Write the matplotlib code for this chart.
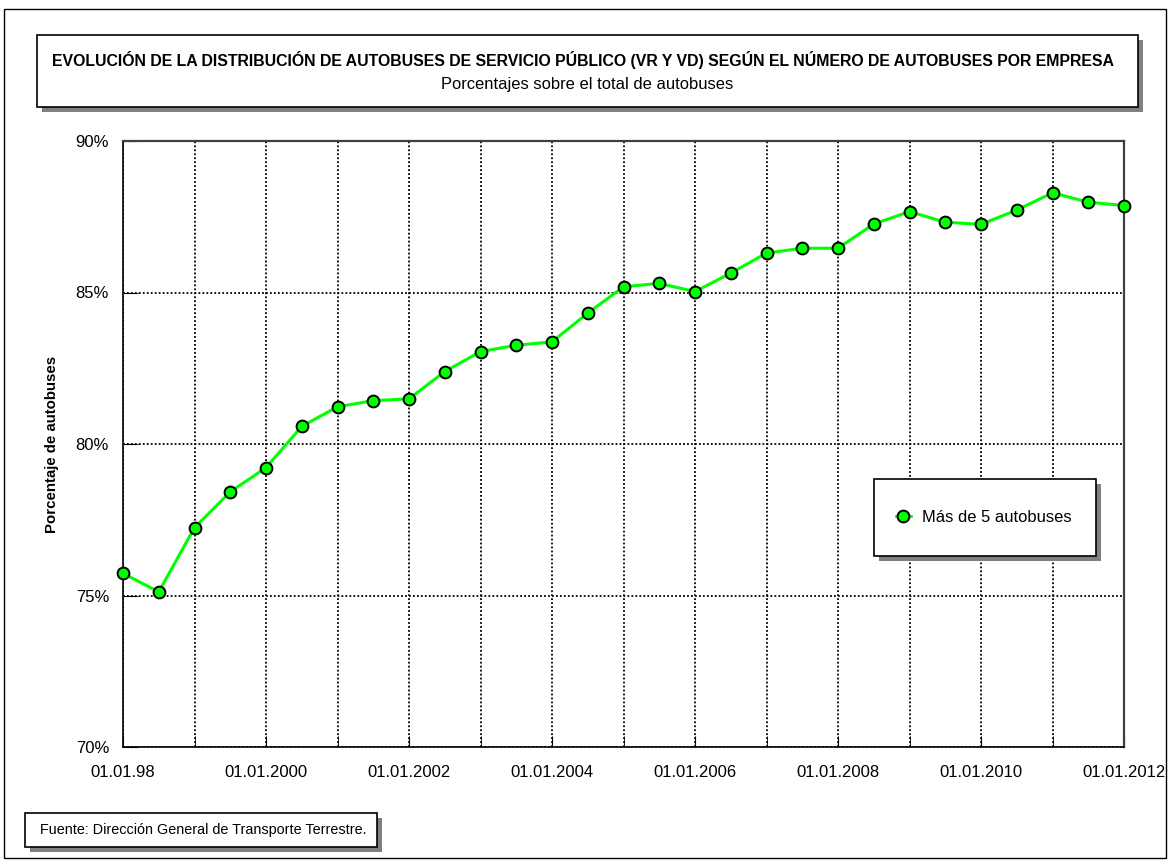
import matplotlib
matplotlib.use("Agg")
import matplotlib.pyplot as plt
import matplotlib.patches as patches
from matplotlib.lines import Line2D
from matplotlib.ticker import FuncFormatter

plt.rcParams['font.family'] = ['Liberation Sans', 'DejaVu Sans']

# half-yearly observations, 01.01.1998 .. 01.01.2012
years = [1998 + 0.5 * i for i in range(29)]
mas_de_5 = [75.73, 75.12, 77.24, 78.42, 79.22, 80.58, 81.23, 81.43, 81.49, 82.39,
            83.05, 83.26, 83.37, 84.32, 85.19, 85.30, 85.03, 85.64, 86.30, 86.46,
            86.46, 87.26, 87.67, 87.32, 87.25, 87.72, 88.29, 87.98, 87.87]

label_years = [1998, 2000, 2002, 2004, 2006, 2008, 2010, 2012]
label_text = ['01.01.98', '01.01.2000', '01.01.2002', '01.01.2004',
              '01.01.2006', '01.01.2008', '01.01.2010', '01.01.2012']
y_ticks = [70, 75, 80, 85, 90]

W, H = 1170, 861
fig = plt.figure(figsize=(W / 100, H / 100), dpi=100)


def fbox(x0, y0, x1, y1, shadow=5):
    # box in pixel coords (top-left origin) with grey drop shadow
    fx0, fx1 = x0 / W, x1 / W
    fy0, fy1 = 1 - y1 / H, 1 - y0 / H
    sh = patches.Rectangle((fx0 + shadow / W, fy0 - shadow / H), fx1 - fx0, fy1 - fy0,
                           transform=fig.transFigure, facecolor='#808080',
                           edgecolor='none', zorder=1)
    bx = patches.Rectangle((fx0, fy0), fx1 - fx0, fy1 - fy0,
                           transform=fig.transFigure, facecolor='white',
                           edgecolor='black', lw=1.2, zorder=2)
    fig.add_artist(sh)
    fig.add_artist(bx)


# outer frame
fig.add_artist(patches.Rectangle((4 / W, 3 / H), (W - 8) / W, (H - 12) / H,
                                 transform=fig.transFigure, fill=False,
                                 edgecolor='black', lw=1))

ax = fig.add_axes([123 / W, 1 - 747 / H, (1124 - 123) / W, (747 - 141) / H])
ax.plot(years, mas_de_5, color='#00ff00', lw=2.2, marker='o', markersize=8.5,
        markerfacecolor='#00ff00', markeredgecolor='black', markeredgewidth=1.4,
        zorder=5, clip_on=False)

ax.set_xlim(1998, 2012)
ax.set_ylim(70, 90)
ax.set_xticks(label_years)
ax.set_xticklabels(label_text)
ax.set_xticks(range(1998, 2013), minor=True)
ax.set_yticks(y_ticks)
ax.yaxis.set_major_formatter(FuncFormatter(lambda v, p: '%d%%' % v))
ax.tick_params(axis='both', which='both', direction='in', labelsize=12, colors='black')
ax.tick_params(axis='y', length=11, pad=10)
ax.tick_params(axis='x', which='both', length=8, pad=13)

dots = (0, (1.0, 1.2))
ax.grid(True, which='both', axis='x', color='black', linestyle=dots, lw=1.3)
ax.grid(True, which='major', axis='y', color='black', linestyle=dots, lw=1.3)
for s in ['left', 'bottom']:
    ax.spines[s].set_color('black')
    ax.spines[s].set_linewidth(1.2)
for s in ['top', 'right']:
    ax.spines[s].set_color('#404040')
    ax.spines[s].set_linewidth(1.6)

ax.set_ylabel('Porcentaje de autobuses', fontsize=10.8, fontweight='bold', va='center')
ax.yaxis.set_label_coords((52 - 123) / (1124 - 123), 0.5)

# title box
fbox(37, 35, 1138, 107)
fig.text(583 / W, 1 - 60 / H,
         'EVOLUCIÓN DE LA DISTRIBUCIÓN DE AUTOBUSES DE SERVICIO PÚBLICO (VR Y VD) SEGÚN EL NÚMERO DE AUTOBUSES POR EMPRESA',
         ha='center', va='center', fontsize=11.4, fontweight='bold', zorder=3)
fig.text(587 / W, 1 - 84 / H, 'Porcentajes sobre el total de autobuses',
         ha='center', va='center', fontsize=11.9, zorder=3)

# legend box
fbox(874, 479, 1096, 556)
handle = Line2D([], [], color='#00ff00', lw=2, marker='o', markersize=8.5,
                markerfacecolor='#00ff00', markeredgecolor='black', markeredgewidth=1.4)
fig.legend([handle], ['Más de 5 autobuses'], loc='center left',
           bbox_to_anchor=(896 / W, 1 - 517 / H), frameon=False, fontsize=11.9,
           handlelength=0.9, handletextpad=0.7, borderpad=0, borderaxespad=0).set_zorder(3)

# source box
fbox(25, 813, 377, 847)
fig.text(40 / W, 1 - 830 / H, 'Fuente: Dirección General de Transporte Terrestre.',
         ha='left', va='center', fontsize=10.4, zorder=3)

fig.savefig('out.png', dpi=100)
